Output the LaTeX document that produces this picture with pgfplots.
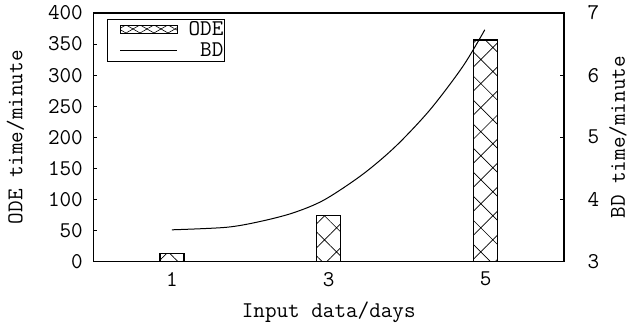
\documentclass[border=0pt]{standalone}
\usepackage{fontspec}
\usepackage{pgfplots}
\pgfplotsset{compat=1.18}
\usetikzlibrary{patterns.meta}
\begin{document}
\ttfamily\fontsize{22.5bp}{26bp}\selectfont
\begin{tikzpicture}
\useasboundingbox (-93.5bp,-62.5bp) rectangle (536.5bp,261.5bp);
\pgfplotsset{
  every axis/.append style={
    scale only axis, width=470.5bp, height=248.5bp,
    xmin=0, xmax=6,
    /pgf/number format/assume math mode=true,
    tick align=inside, major tick length=4bp,
    axis line style={line width=1.2bp},
    every tick/.style={black, line width=0.8bp},
  }
}
\begin{axis}[
  ymin=0, ymax=400, ytick={0,50,...,400},
  ytick pos=left,
  xtick={1,3,5}, xtick style={draw=none},
  yticklabel style={xshift=-3bp},
  xticklabel style={yshift=-3bp},
  xlabel={Input data/days},
  ylabel={ODE time/minute},
  x label style={at={(axis description cs:0.5,0)}, anchor=center, yshift=-51bp},
  y label style={at={(axis description cs:0,0.5)}, anchor=center, yshift=78bp},
  legend cell align=right,
  legend style={at={(0,1)}, anchor=north west, xshift=13.5bp, yshift=-6bp,
    draw=black, line width=1bp, inner xsep=1bp, inner ysep=0bp,
    row sep=1bp, column sep=11bp,
    nodes={inner xsep=0bp, inner ysep=1.5bp}},
]
\addplot[draw=black, line width=1.2bp, fill=white,
  pattern={Hatch[angle=45,distance=17bp,line width=0.7bp]},
  ybar, bar width=24bp,
  legend image code/.code={
    \node[inner sep=0pt] at (0bp,0bp) {};
    \draw[line width=0.6bp, pattern={Lines[angle=30,distance=7bp,line width=0.6bp]}] (10bp,-4bp) rectangle (67bp,4bp);
    \draw[line width=1bp, pattern={Lines[angle=-30,distance=7bp,line width=0.6bp]}] (10bp,-4bp) rectangle (67bp,4bp);
  }]
  coordinates {(1,13.2) (3,73.7) (5,356.4)};
\addlegendentry{ODE}
\addlegendimage{black, line width=1bp, legend image code/.code={
    \node[inner sep=0pt] at (0bp,0bp) {};
    \draw[black, line width=1bp] (10bp,0bp) -- (67bp,0bp);}}
\addlegendentry{BD}
\end{axis}
\begin{axis}[
  ymin=3, ymax=7, ytick={3,4,5,6,7},
  axis y line*=right, axis x line=none,
  yticklabel style={xshift=16bp},
  ylabel={BD time/minute},
  y label style={at={(axis description cs:1,0.5)}, anchor=center, yshift=-54bp},
]
\addplot[black, line width=1bp, smooth, mark=none] coordinates {
  (1,3.51) (1.69,3.55) (2.11,3.64) (2.54,3.78) (2.94,3.99) (3.43,4.40)
  (3.85,4.85) (4.29,5.44) (4.71,6.14) (4.99,6.73)
};
\end{axis}
\end{tikzpicture}
\end{document}
